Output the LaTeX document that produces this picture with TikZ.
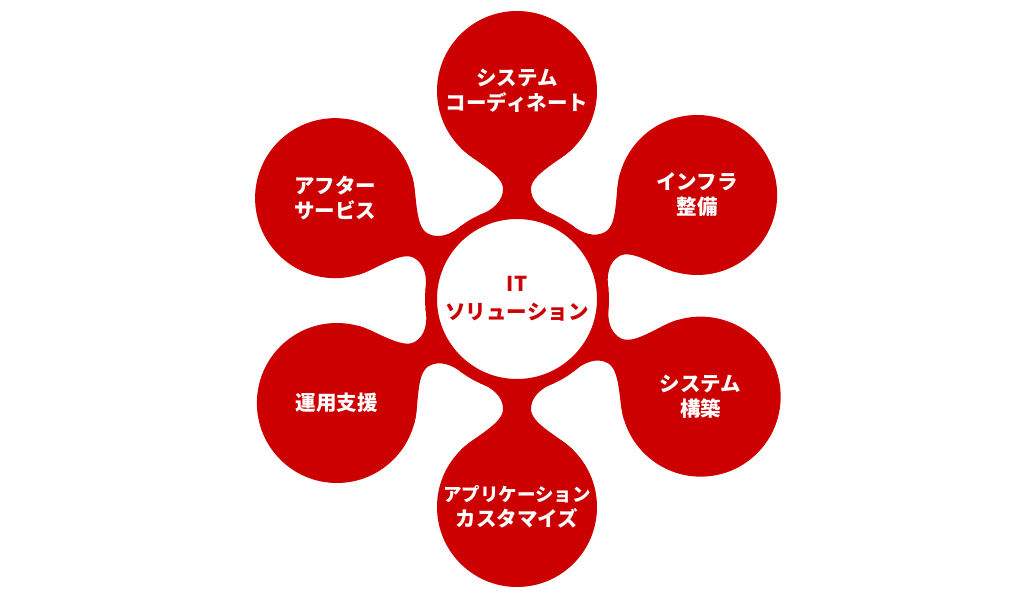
\documentclass[tikz,border=0pt]{standalone}
\usepackage{fontspec}
\setmainfont{Noto Sans CJK JP}
\usetikzlibrary{calc}
\definecolor{itred}{RGB}{204,0,0}

\begin{document}
\begin{tikzpicture}[x=1pt,y=1pt]

      \useasboundingbox (0,0) rectangle (1024,615);
      \coordinate (c) at (517,316);

      % necks between hub and petals
      \foreach \a in {90,30,-28,-90,210,151}{
        \begin{scope}[shift={(c)},rotate=\a]
          \fill[itred] (24:92) .. controls (89,24) and (98,14) .. (110,14)
            .. controls (125,14) and (137.3,42.5) .. (151.4,56.6)
            -- (151.4,-56.6) .. controls (137.3,-42.5) and (125,-14) .. (110,-14)
            .. controls (98,-14) and (89,-24) .. (-24:92) -- cycle;
        \end{scope}
      }

      \begin{scope}[every node/.style={circle,fill=itred,minimum size=160pt,inner sep=0pt,
          text=white,align=center,font=\bfseries\fontsize{20.5}{25}\selectfont}]
        \node (coord)  at ($(c)+(90:208)$)  {システム\\コーディネート};
        \node (infra)  at ($(c)+(30:208)$)  {インフラ\\整備};
        \node (build)  at ($(c)+(-28:208)$) {システム\\構築};
        \node (custom) at ($(c)+(-90:208)$) {\fontsize{18.5}{25}\selectfont アプリケーション\\カスタマイズ};
        \node (ops)    at ($(c)+(210:208)$) {運用支援};
        \node (after)  at ($(c)+(151:208)$) {アフター\\サービス};
      \end{scope}

      \node[circle,draw=itred,line width=12pt,fill=white,minimum size=172pt,inner sep=0pt,
        text=itred,align=center,font=\bfseries\fontsize{20.5}{28}\selectfont] (it) at (c) {IT\\ソリューション};

    \end{tikzpicture}
\end{document}
